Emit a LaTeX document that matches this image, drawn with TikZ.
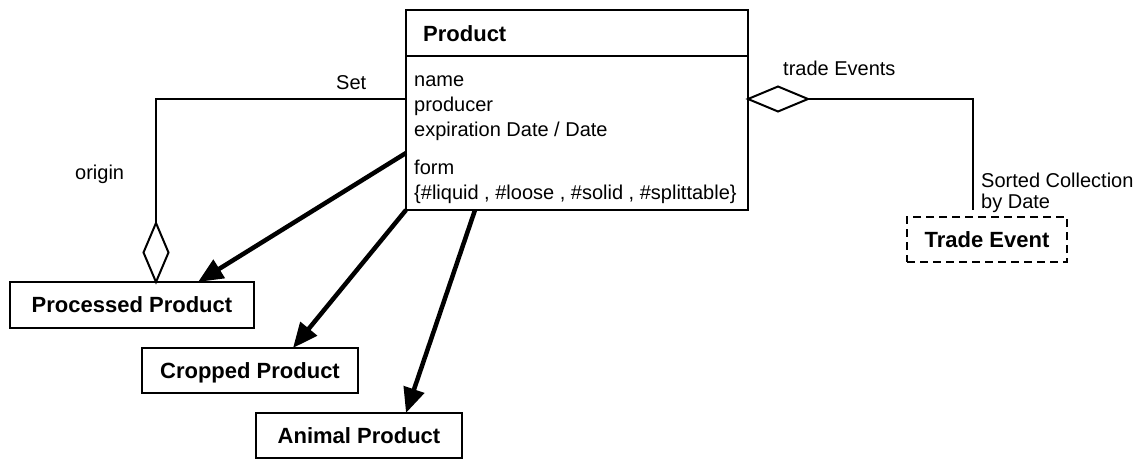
\documentclass[tikz,border=0pt]{standalone}
\usepackage{fontspec}
\setmainfont{Liberation Sans}
\usetikzlibrary{arrows.meta,calc,shapes.geometric}
\tikzset{
  classbox/.style={draw, line width=2pt, inner sep=0pt, outer sep=0pt,
    font=\fontsize{22}{26}\selectfont\bfseries, text height=15pt, text depth=0pt},
  attr/.style={anchor=base west, inner sep=0pt, font=\fontsize{20}{24}\selectfont},
  role/.style={anchor=base west, inner sep=0pt, font=\fontsize{20}{24}\selectfont},
  assoc/.style={line width=2pt},
  agg/.style={diamond, draw, fill=white, line width=2pt, inner sep=0pt, outer sep=0pt},
  gen/.style={line width=4.5pt, -{Triangle[length=25pt,width=21pt]}},
}
\begin{document}
\begin{tikzpicture}[x=1pt,y=-1pt]
\useasboundingbox (0,0) rectangle (1143,460);

% the Product class with its header and attribute compartment
\node[draw, line width=2pt, inner sep=0pt, outer sep=0pt,
      minimum width=342pt, minimum height=200pt] (prod) at (577,110) {};
\draw[line width=2pt] ($(prod.north west)+(0,46)$) -- ($(prod.north east)+(0,46)$);
\node[anchor=base west, inner sep=0pt, font=\fontsize{22}{26}\selectfont\bfseries] (prodname) at (423,42) {Product};
\node[attr] (a1) at (414,86) {name};
\node[attr] (a2) at (414,111) {producer};
\node[attr] (a3) at (414,136) {expiration Date / Date};
\node[attr] (a4) at (414,174) {form};
\node[attr] (a5) at (414,199) {\{\#liquid , \#loose , \#solid , \#splittable\}};

% subclasses and the trade event class
\node[classbox, minimum width=244pt, minimum height=46pt] (proc) at (132,305) {Processed Product};
\node[classbox, minimum width=216pt, minimum height=45pt] (crop) at (250,370.5) {Cropped Product};
\node[classbox, minimum width=206pt, minimum height=45pt] (anim) at (359,435.5) {Animal Product};
\node[classbox, dash pattern=on 8pt off 5pt, minimum width=160pt, minimum height=45pt] (te) at (987,239.5) {Trade Event};

% aggregation diamonds
\node[agg, minimum width=25pt, minimum height=59pt] (dset) at (156,252.5) {};
\node[agg, minimum width=60pt, minimum height=25pt] (dtrade) at (778,99) {};

% origin association
\draw[assoc] ($(prod.north west)+(0,89)$) -| (dset.north);
\node[role] (lset) at (336,89) {Set};
\node[role] (lorigin) at (75,179) {origin};

% trade events association
\coordinate (teend) at ($(te.north west)+(66,-7)$);
\draw[assoc] (dtrade.east) -| (teend);
\node[role] (ltrade) at (783,76) {trade Events};
\node[role] (lsorted) at (981,187) {Sorted Collection};
\node[role] (lbydate) at (981,208) {by Date};

% generalisation arrows
\draw[gen] ($(prod.north west)+(0,143)$) -- ($(proc.north west)+(188,0)$);
\draw[gen] (prod.south west) -- ($(crop.north west)+(151,0)$);
\draw[gen] ($(prod.south west)+(69,0)$) -- ($(anim.north west)+(150,0)$);
\end{tikzpicture}
\end{document}
